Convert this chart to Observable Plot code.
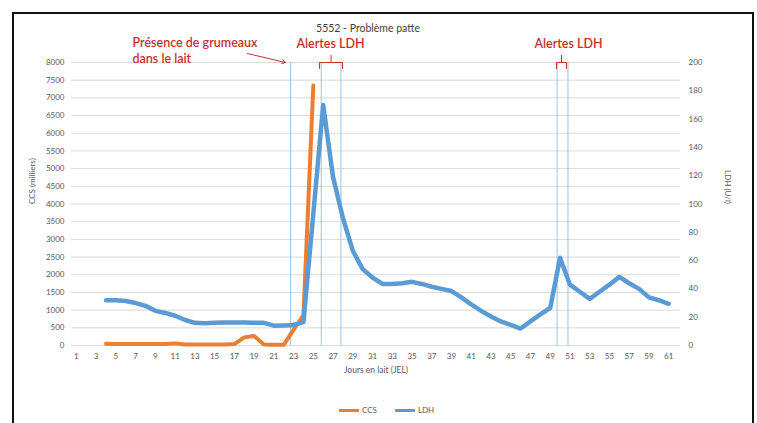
<!DOCTYPE html>
<html><head><meta charset="utf-8">
<script src="https://cdn.jsdelivr.net/npm/d3@7"></script>
<script src="https://cdn.jsdelivr.net/npm/@observablehq/plot@0.6"></script>
<style>
html,body{margin:0;padding:0;background:#fff;}
#wrap{position:relative;width:757px;height:423px;overflow:hidden;font-family:Lato,"Open Sans",sans-serif;}
#chart svg{display:block;}
#frame{position:absolute;left:12px;top:12px;width:738px;height:480px;border:2px solid #111;pointer-events:none;}
#legend{position:absolute;top:405px;left:339px;display:flex;align-items:center;font-size:8px;color:#595959;font-family:Lato,"Open Sans",sans-serif;}
.sw{display:inline-block;width:20px;height:3px;margin-right:3px;}
.it{margin-right:18px;display:flex;align-items:center;}
</style></head><body>
<div id="wrap"><div id="chart"></div><div id="frame"></div><div id="legend"></div></div>
<script>
// ---- data ----
const chartTitle = "5552 - Problème patte";
const xTitle = "Jours en lait (JEL)";
const leftTitle = "CCS (milliers)";
const rightTitle = "LDH (U/l)";
const seriesNames = ["CCS", "LDH"];
const seriesColors = ["#ED7D31", "#5B9BD5"];

const ccsDays   = [4, 5, 6, 7, 8, 9, 10, 11, 12, 13, 14, 15, 16, 17, 18, 19, 20, 21, 22, 23, 24, 25];
const ccsValues = [50, 40, 40, 40, 40, 40, 40, 60, 30, 30, 30, 30, 30, 40, 230, 270, 30, 20, 20, 450, 850, 7350];

const ldhDays   = [4, 5, 6, 7, 8, 9, 10, 11, 12, 13, 14, 15, 16, 17, 18, 19, 20, 21, 22, 23, 24,
                   26, 27, 28, 29, 30, 31, 32, 33, 34, 35, 36, 37, 38, 39, 40, 41, 42, 43, 44, 45,
                   46, 47, 48, 49, 50, 51, 52, 53, 54, 55, 56, 57, 58, 59, 60, 61];
const ldhValues = [32, 32, 31.5, 30, 28, 24.5, 23, 21, 18, 16, 15.8, 16, 16.2, 16.3, 16.2, 16, 16, 14, 14.2, 14.5, 16.5,
                   170, 119, 90, 67, 54, 48, 43.5, 43.5, 44, 45, 43.5, 41.5, 40, 38.5, 34, 29, 24.5, 20.5, 17, 14.5,
                   12, 17, 22, 26.5, 62, 43, 38, 33, 38, 43, 48.5, 44, 40, 34, 32, 29.5];

const leftTicks = [0, 500, 1000, 1500, 2000, 2500, 3000, 3500, 4000, 4500, 5000, 5500, 6000, 6500, 7000, 7500, 8000];
const rightTicks = [0, 20, 40, 60, 80, 100, 120, 140, 160, 180, 200];
const xTickLabels = [1, 3, 5, 7, 9, 11, 13, 15, 17, 19, 21, 23, 25, 27, 29, 31, 33, 35, 37, 39, 41, 43, 45, 47, 49, 51, 53, 55, 57, 59, 61];

// annotations
const noteLines = ["Présence de grumeaux", "dans le lait"];
const alertLabels = ["Alertes LDH", "Alertes LDH"];
const alertLineDays = [22.7, 25.8, 27.8, 49.7, 50.8];

// ---- build ----
const LEFT_MAX = 8000, RIGHT_MAX = 200, K = LEFT_MAX / RIGHT_MAX;
const red = "#c8302e";
const grey = "#595959";
const ccs = ccsDays.map((d, i) => ({day: d, v: ccsValues[i]}));
const ldh = ldhDays.map((d, i) => ({day: d, v: ldhValues[i] * K}));

const noteX = 6.68, noteY = [8565, 8113];
const alertX = [26.74, 50.85], alertY = 8537;
const bracketSpans = [[25.63, 27.96], [49.64, 50.65]];
const bracketPts = bracketSpans.flatMap(([a, b], i) => [
  {x: a, y: 7830, z: i}, {x: a, y: 8000, z: i}, {x: b, y: 8000, z: i}, {x: b, y: 7830, z: i}
]);
const bracketMid = bracketSpans.map(([a, b]) => (a + b) / 2);

const plot = Plot.plot({
  width: 757, height: 423,
  marginLeft: 71, marginRight: 77, marginTop: 62, marginBottom: 78,
  style: {fontFamily: "Lato, 'Open Sans', sans-serif", fontSize: "8px", background: "#fff", color: grey},
  x: {type: "linear", domain: [0.5, 62.2]},
  y: {domain: [0, LEFT_MAX]},
  marks: [
    Plot.gridY(leftTicks, {stroke: "#d9d9d9", strokeOpacity: 1}),
    Plot.axisY(leftTicks, {anchor: "left", tickSize: 0, tickPadding: 7, label: null, fill: grey, fontSize: 8, tickFormat: d => String(d)}),
    Plot.axisY({anchor: "right", ticks: rightTicks.map(v => v * K), tickFormat: d => String(d / K), tickSize: 0, tickPadding: 8, label: null, fill: grey, fontSize: 8}),
    Plot.axisX(xTickLabels, {anchor: "bottom", tickSize: 0, tickPadding: 8, label: null, fill: grey, fontSize: 8, tickFormat: d => String(d)}),
    Plot.ruleX(alertLineDays, {y1: 0, y2: LEFT_MAX, stroke: "#9dc3e6", strokeWidth: 1}),
    Plot.line(ccs, {x: "day", y: "v", stroke: seriesColors[0], strokeWidth: 4, strokeLinejoin: "round", strokeLinecap: "round"}),
    Plot.line(ldh, {x: "day", y: "v", stroke: seriesColors[1], strokeWidth: 4.5, strokeLinejoin: "round", strokeLinecap: "round"}),
    // titles
    Plot.text([chartTitle], {frameAnchor: "top", dy: -38, dx: -8, fill: "#404040", fontSize: 10.5}),
    Plot.text([xTitle], {frameAnchor: "bottom", dy: 27, fill: grey, fontSize: 8.5}),
    Plot.text([leftTitle], {frameAnchor: "left", dx: -39, rotate: -90, fill: grey, fontSize: 8}),
    Plot.text([rightTitle], {frameAnchor: "right", dx: 47, rotate: 90, fill: grey, fontSize: 8}),
    // annotations
    Plot.text(noteLines, {x: noteX, y: (d, i) => noteY[i], text: d => d, textAnchor: "start", fill: red, fontSize: 12.5, fontWeight: 600}),
    Plot.text(alertLabels, {x: (d, i) => alertX[i], y: alertY, text: d => d, fill: red, fontSize: 12.5, fontWeight: 600}),
    Plot.arrow([0], {x1: 18.33, y1: 8254, x2: 22.18, y2: 8000, stroke: red, strokeWidth: 1, headLength: 6}),
    Plot.line(bracketPts, {x: "x", y: "y", z: "z", stroke: red, strokeWidth: 1, curve: "linear"}),
    Plot.ruleX(bracketMid, {y1: 8000, y2: 8198, stroke: red, strokeWidth: 1})
  ]
});
document.getElementById("chart").appendChild(plot);

const lg = document.getElementById("legend");
seriesNames.forEach((n, i) => {
  const it = document.createElement("span");
  it.className = "it";
  const sw = document.createElement("span");
  sw.className = "sw";
  sw.style.background = seriesColors[i];
  it.appendChild(sw);
  it.appendChild(document.createTextNode(n));
  lg.appendChild(it);
});
</script>
</body></html>
